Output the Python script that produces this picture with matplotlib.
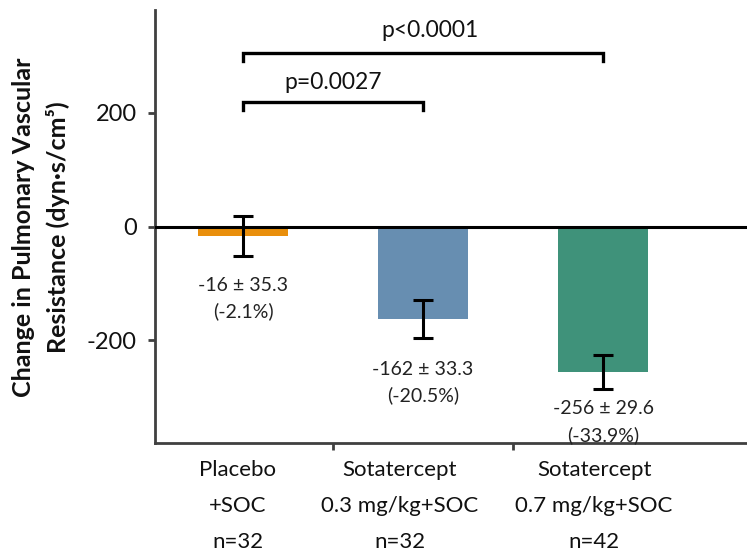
import matplotlib
matplotlib.use("Agg")
import matplotlib.pyplot as plt
import numpy as np

plt.rcParams['font.family'] = ['Lato', 'DejaVu Sans']

categories = ["Placebo\n+SOC\nn=32", "Sotatercept\n0.3 mg/kg+SOC\nn=32", "Sotatercept\n0.7 mg/kg+SOC\nn=42"]
means = [-16, -162, -256]
errors = [35.3, 33.3, 29.6]
pct = ["-2.1%", "-20.5%", "-33.9%"]
colors = ["#E98F0C", "#678EB1", "#3F927A"]
yticks = [-200, 0, 200]
comparisons = [(0, 1, "p=0.0027"), (0, 2, "p<0.0001")]

W, H = 747, 551
fig = plt.figure(figsize=(W / 100, H / 100), dpi=100)
ax = fig.add_axes([155 / W, (H - 443) / H, (W - 155) / W, (443 - 10) / H])

x = np.arange(len(categories))
ax.bar(x, means, width=0.5, color=colors, zorder=2)
ax.errorbar(x, means, yerr=errors, fmt='none', ecolor='black', elinewidth=2.2,
            capsize=7, capthick=2.2, zorder=3)
ax.axhline(0, color='black', lw=2.2, zorder=4)

ax.set_xlim(-0.49, 2.8)
ax.set_ylim(-380, 380)
ax.set_yticks(yticks)
ax.set_yticklabels([str(v) for v in yticks], fontsize=17, color='#111111')
ax.tick_params(axis='y', direction='out', length=5, width=2, color='#404040', pad=8)

ax.set_xticks([])
ax.set_xticks([0.5, 1.5], minor=True)
ax.tick_params(axis='x', which='minor', direction='out', length=5, width=2, color='#404040', labelbottom=False)

# category labels, line by line
label_dx = [-0.03, -0.13, -0.05]
line_offsets_px = [25, 61, 97]
for i, lab in enumerate(categories):
    for line, off in zip(lab.split("\n"), line_offsets_px):
        ax.annotate(line, xy=(x[i] + label_dx[i], 0), xycoords=('data', 'axes fraction'),
                    xytext=(0, -off), textcoords='offset pixels',
                    ha='center', va='center_baseline', fontsize=16, color='#111111',
                    annotation_clip=False)

# value annotations below error bars
gap_px = [28, 30, 18]
for i in range(len(categories)):
    ybot = means[i] - errors[i]
    ax.annotate(f"{means[i]} \u00b1 {errors[i]}", xy=(x[i], ybot), xytext=(0, -gap_px[i]),
                textcoords='offset pixels', ha='center', va='center_baseline',
                fontsize=14, color='#222222')
    ax.annotate(f"({pct[i]})", xy=(x[i], ybot), xytext=(0, -gap_px[i] - 26),
                textcoords='offset pixels', ha='center', va='center_baseline',
                fontsize=14, color='#222222')

for sp in ['top', 'right']:
    ax.spines[sp].set_visible(False)
for sp in ['left', 'bottom']:
    ax.spines[sp].set_color('#404040')
    ax.spines[sp].set_linewidth(2)

# significance brackets
bracket_y = [219, 305]
tick_h = 15
text_y = [253, 344]
for (a, b, txt), by, ty in zip(comparisons, bracket_y, text_y):
    ax.plot([a, a, b, b], [by - tick_h, by, by, by - tick_h], color='black', lw=2.4,
            clip_on=False, solid_joinstyle='miter')
    ax.text((a + b) / 2 + (0.04 if b == 2 else 0.0), ty, txt, ha='center', va='center',
            fontsize=16.5, color='#111111')

# y-axis title (two lines)
ylab_lines = ["Change in Pulmonary Vascular", "Resistance (dyn\u00b7s/cm\u2075)"]
for line, xb in zip(ylab_lines, [31, 66]):
    fig.text(xb / W, (H - 227) / H, line, rotation=90, rotation_mode='anchor',
             ha='center', va='baseline', fontsize=18, fontweight='bold', color='#111111')

fig.savefig("out.png", dpi=100)
